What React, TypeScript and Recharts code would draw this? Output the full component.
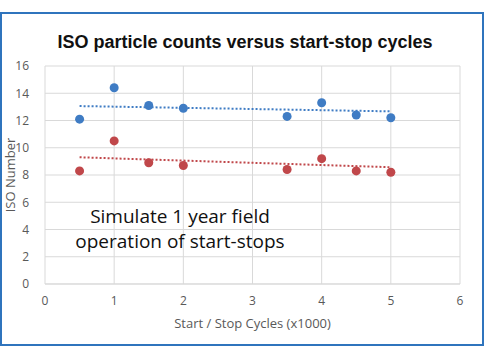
import React from "react"
import {
  ScatterChart,
  Scatter,
  XAxis,
  YAxis,
  CartesianGrid,
  ReferenceLine,
} from "recharts"

// cycles (x1000)
const cycles = [0.5, 1, 1.5, 2, 3.5, 4, 4.5, 5]
const upperIso = [12.1, 14.4, 13.1, 12.9, 12.3, 13.3, 12.4, 12.2]
const lowerIso = [8.3, 10.5, 8.9, 8.7, 8.4, 9.2, 8.3, 8.2]

// dotted trend lines, read at both ends
const trendX = [0.5, 5]
const upperTrend = [13.06, 12.67]
const lowerTrend = [9.3, 8.57]

const xTicks = [0, 1, 2, 3, 4, 5, 6]
const yTicks = [0, 2, 4, 6, 8, 10, 12, 14, 16]

const BLUE = "#3f7cc4"
const RED = "#c0474a"
const tickStyle = { fontSize: 12, fill: "#595959", fontFamily: "Open Sans" }

const upperData = cycles.map((x, i) => ({ x, y: upperIso[i] }))
const lowerData = cycles.map((x, i) => ({ x, y: lowerIso[i] }))

export default function App() {
  return (
    <div
      style={{
        position: "absolute",
        left: 0,
        top: 0,
        width: 484,
        height: 360,
        background: "#fff",
      }}
    >
      {/* outer frame */}
      <div
        style={{
          position: "absolute",
          left: 0,
          top: 12,
          width: 480,
          height: 330,
          border: "2px solid #2f74bd",
        }}
      />

      <ScatterChart
        width={484}
        height={360}
        margin={{ top: 66, right: 24, bottom: 26, left: 0 }}
      >
        <CartesianGrid stroke="#d9d9d9" strokeWidth={1} />
        <XAxis
          type="number"
          dataKey="x"
          domain={[0, 6]}
          ticks={xTicks}
          height={50}
          axisLine={{ stroke: "#d9d9d9" }}
          tickLine={false}
          tick={tickStyle}
          tickMargin={6}
          label={{
            value: "Start / Stop Cycles (x1000)",
            position: "insideBottom",
            offset: 6,
            style: { fontSize: 13, fill: "#595959", fontFamily: "Open Sans" },
          }}
        />
        <YAxis
          type="number"
          dataKey="y"
          domain={[0, 16]}
          ticks={yTicks}
          width={45}
          axisLine={false}
          tickLine={false}
          tick={tickStyle}
          tickMargin={10}
          label={{
            value: "ISO Number",
            angle: -90,
            position: "insideLeft",
            offset: 10,
            style: {
              fontSize: 13,
              fill: "#595959",
              fontFamily: "Open Sans",
              textAnchor: "middle",
            },
          }}
        />

        <ReferenceLine
          segment={[
            { x: trendX[0], y: upperTrend[0] },
            { x: trendX[1], y: upperTrend[1] },
          ]}
          stroke={BLUE}
          strokeWidth={2}
          strokeDasharray="2 2"
        />
        <ReferenceLine
          segment={[
            { x: trendX[0], y: lowerTrend[0] },
            { x: trendX[1], y: lowerTrend[1] },
          ]}
          stroke={RED}
          strokeWidth={2}
          strokeDasharray="2 2"
        />

        <Scatter
          data={upperData}
          fill={BLUE}
          isAnimationActive={false}
          shape={(p: any) => <circle cx={p.cx} cy={p.cy} r={4.5} fill={BLUE} />}
        />
        <Scatter
          data={lowerData}
          fill={RED}
          isAnimationActive={false}
          shape={(p: any) => <circle cx={p.cx} cy={p.cy} r={4.5} fill={RED} />}
        />
      </ScatterChart>

      <div
        style={{
          position: "absolute",
          left: 0,
          width: 484,
          top: 32,
          textAlign: "center",
          fontFamily: "Liberation Sans",
          fontWeight: "bold",
          fontSize: 18,
          color: "#111",
          paddingLeft: 6,
          boxSizing: "border-box",
        }}
      >
        ISO particle counts versus start-stop cycles
      </div>

      <div
        style={{
          position: "absolute",
          left: 60,
          width: 240,
          top: 204,
          textAlign: "center",
          fontFamily: "Open Sans",
          fontSize: 19,
          lineHeight: "25px",
          color: "#111",
        }}
      >
        Simulate 1 year field
        <br />
        operation of start-stops
      </div>
    </div>
  )
}
